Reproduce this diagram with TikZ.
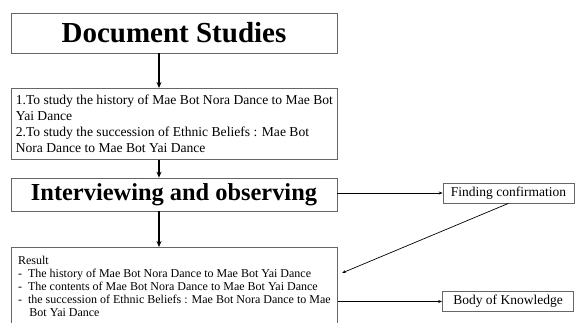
\documentclass[tikz,border=0pt]{standalone}
\usepackage{fontspec}
\setmainfont{Liberation Serif}
\usetikzlibrary{arrows.meta}

\begin{document}
\begin{tikzpicture}[x=1pt,y=1pt,
    box/.style={draw=black!60,line width=0.7pt,fill=white,minimum width=326pt,inner sep=0pt},
    headbox/.style={box,font=\fontsize{29}{32}\selectfont\bfseries},
    listbox/.style={box,align=left,anchor=north west,inner xsep=4pt,inner ysep=3pt},
    sidebox/.style={draw=black!60,line width=0.7pt,minimum width=131pt,minimum height=20pt,inner sep=0pt,font=\fontsize{13.5}{15}\selectfont},
    flow/.style={line width=1.4pt,-{Stealth[length=6pt,width=5pt]}},
    link/.style={line width=0.7pt,-{Stealth[length=4pt,width=3pt]}}]
  \useasboundingbox (0,0) rectangle (576,-323);

  %left column
  \node[headbox,minimum height=40pt] (doc) at (174,-33) {Document Studies};
  \node[listbox,minimum height=71pt,font=\fontsize{13.6}{16}\selectfont] (aims) at (11,-88) {1.To study the history of Mae Bot Nora Dance to Mae Bot\\
    Yai Dance\\
    2.To study the succession of Ethnic Beliefs : Mae Bot\\
    Nora Dance to Mae Bot Yai Dance};
  \node[headbox,minimum height=33pt,font=\fontsize{24.4}{27}\selectfont\bfseries] (interview) at (174,-194.5) {Interviewing and observing};
  \node[listbox,minimum height=78pt,font=\fontsize{12}{13.2}\selectfont] (result) at (11,-247) {Result\\
    - \ The history of Mae Bot Nora Dance to Mae Bot Yai Dance\\
    - \ The contents of Mae Bot Nora Dance to Mae Bot Yai Dance\\
    - \ the succession of Ethnic Beliefs : Mae Bot Nora Dance to Mae\\
    \hspace*{0.95em}Bot Yai Dance};

  %right column
  \node[sidebox] (confirm) at (508.5,-193) {Finding confirmation};
  \node[sidebox] (body) at (508,-301.5) {Body of Knowledge};

  %arrows
  \coordinate (spine) at (159,0);
  \coordinate (hist) at (342,-273);
  \draw[flow] (doc.south -| spine) -- (aims.north -| spine);
  \draw[flow] (aims.south -| spine) -- (interview.north -| spine);
  \draw[flow] (interview.south -| spine) -- (result.north -| spine);
  \draw[link] (interview.east |- confirm.west) -- (confirm.west);
  \draw[link] (confirm.south) -- (hist);
  \draw[link] (body.west -| result.east) -- (body.west);
\end{tikzpicture}
\end{document}
